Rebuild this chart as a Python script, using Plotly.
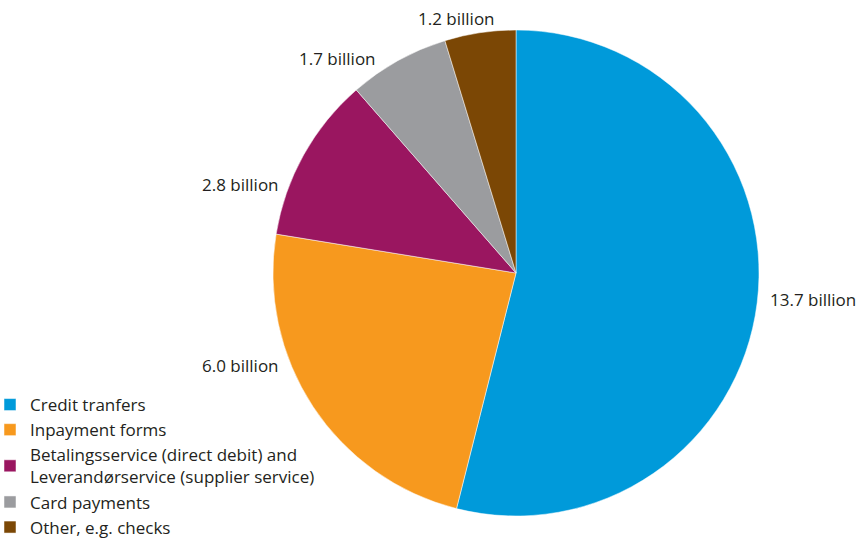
import plotly.graph_objects as go

categories = ["Credit tranfers", "Inpayment forms",
              "Betalingsservice (direct debit) and<br>Leverandørservice (supplier service)",
              "Card payments", "Other, e.g. checks"]
values = [13.7, 6.0, 2.8, 1.7, 1.2]
colors = ["#009ADA", "#F7991E", "#9A1660", "#9B9C9F", "#7B4705"]

# value-label anchor points (pixels) and anchor side
label_pos = [(768, 299, "left"), (281, 365, "right"), (281, 185, "right"),
             (378, 58, "right"), (497, 18, "right")]

W, H = 859, 538
FONT = "Open Sans"
TXT = "#231F20"

fig = go.Figure(go.Pie(
    labels=categories, values=values, sort=False, direction="clockwise",
    rotation=0,
    marker=dict(colors=colors, line=dict(color="white", width=0.5)),
    textinfo="none",
    hoverinfo="label+value",
    domain=dict(x=[273/W, 759/W], y=[1-516/H, 1-30/H]),
))

for v, (px, py, side) in zip(values, label_pos):
    fig.add_annotation(
        text=f"{v:.1f} billion", xref="paper", yref="paper",
        x=px/W, y=1-py/H, xanchor=side, yanchor="middle",
        showarrow=False, font=dict(size=17, color=TXT, family=FONT),
    )

fig.update_layout(
    width=W, height=H, margin=dict(l=0, r=0, t=0, b=0, autoexpand=False),
    paper_bgcolor="white", plot_bgcolor="white",
    font=dict(family=FONT, size=17, color=TXT),
    legend=dict(x=-10/W, y=-7/H, xanchor="left", yanchor="bottom",
                font=dict(size=17, color=TXT), tracegroupgap=0,
                itemwidth=30, bgcolor="rgba(0,0,0,0)"),
    showlegend=True,
)
fig.write_html("out.html")
